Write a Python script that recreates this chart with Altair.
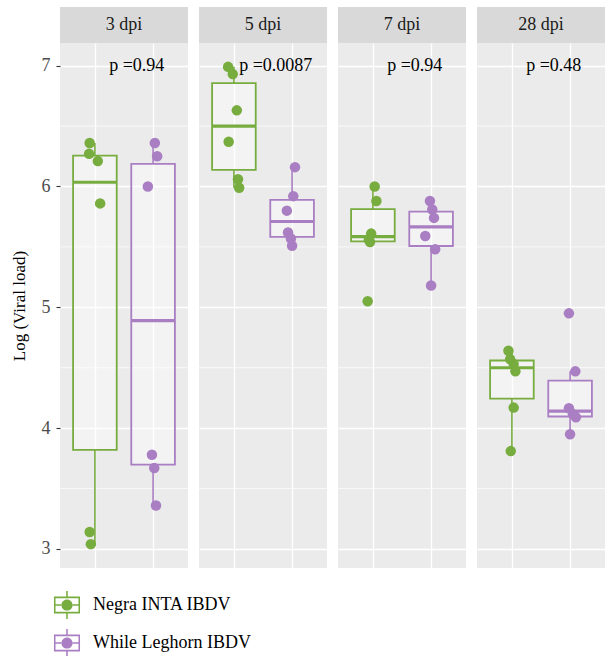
import altair as alt
import pandas as pd

FONT = "Liberation Serif"
GREEN = "#77AC3F"
PURPLE = "#A97EC3"

dpi_levels = ["3 dpi", "5 dpi", "7 dpi", "28 dpi"]
breeds = ["Negra INTA IBDV", "While Leghorn IBDV"]
p_labels = ["p =0.94", "p =0.0087", "p =0.94", "p =0.48"]
y_ticks = [3, 4, 5, 6, 7]
minor_grid = [3.5, 4.5, 5.5, 6.5]

# Log viral load per bird
negra_3 = [6.36, 6.27, 6.21, 5.86, 3.14, 3.04]
leghorn_3 = [6.36, 6.25, 6.00, 3.78, 3.67, 3.36]
negra_5 = [6.99, 6.93, 6.63, 6.37, 6.06, 5.99]
leghorn_5 = [6.16, 5.92, 5.80, 5.62, 5.57, 5.51]
negra_7 = [6.00, 5.88, 5.61, 5.56, 5.54, 5.05]
leghorn_7 = [5.88, 5.81, 5.74, 5.59, 5.48, 5.18]
negra_28 = [4.64, 4.57, 4.53, 4.47, 4.17, 3.81]
leghorn_28 = [4.95, 4.47, 4.165, 4.115, 4.09, 3.95]

# horizontal jitter of each point (category units)
jit_negra_3 = [-0.09, -0.10, 0.05, 0.09, -0.09, -0.07]
jit_leghorn_3 = [0.03, 0.07, -0.09, -0.02, 0.02, 0.05]
jit_negra_5 = [-0.10, -0.02, 0.05, -0.09, 0.07, 0.09]
jit_leghorn_5 = [0.05, 0.02, -0.09, -0.07, -0.02, 0.0]
jit_negra_7 = [0.03, 0.06, -0.03, -0.07, -0.05, -0.09]
jit_leghorn_7 = [-0.02, 0.02, 0.05, -0.10, 0.07, 0.0]
jit_negra_28 = [-0.06, -0.03, 0.03, 0.06, 0.03, -0.02]
jit_leghorn_28 = [-0.02, 0.09, -0.02, 0.05, 0.10, 0.0]

series = {
    ("3 dpi", 0): (negra_3, jit_negra_3),
    ("3 dpi", 1): (leghorn_3, jit_leghorn_3),
    ("5 dpi", 0): (negra_5, jit_negra_5),
    ("5 dpi", 1): (leghorn_5, jit_leghorn_5),
    ("7 dpi", 0): (negra_7, jit_negra_7),
    ("7 dpi", 1): (leghorn_7, jit_leghorn_7),
    ("28 dpi", 0): (negra_28, jit_negra_28),
    ("28 dpi", 1): (leghorn_28, jit_leghorn_28),
}

rows = []
for (d, b), (vals, jits) in series.items():
    for v, j in zip(vals, jits):
        rows.append({"dpi": d, "breed": breeds[b], "idx": b + 1, "value": v, "jitter": j})
df = pd.DataFrame(rows)
pdf = pd.DataFrame({"dpi": dpi_levels, "p": p_labels})
gdf = pd.DataFrame({"g": minor_grid})

PW, PH, SH = 128, 525, 36

color_scale = alt.Scale(domain=breeds, range=[GREEN, PURPLE])
stroke_scale = alt.Scale(domain=[1, 2], range=[GREEN, PURPLE])
x_scale = alt.Scale(domain=[0.4, 2.6], nice=False, zero=False)
y_scale = alt.Scale(domain=[2.8425, 7.1875], nice=False, zero=False)

x_axis = alt.Axis(values=[1, 2], labels=False, ticks=False, domain=False, title=None,
                  grid=True, gridColor="white", gridWidth=1.3)

# legend key: box outline + median + whisker stubs + dot
legend_path = (
    "M-0.93,-0.6H0.93V0.6H-0.93Z"
    "M-0.82,-0.49V0.49H0.82V-0.49Z"
    "M-0.82,-0.055H-0.38V0.055H-0.82Z"
    "M0.38,-0.055H0.82V0.055H0.38Z"
    "M-0.055,-1H0.055V-0.6H-0.055Z"
    "M-0.055,0.6H0.055V1H-0.055Z"
    "M-0.4,0A0.4,0.4,0,1,0,0.4,0A0.4,0.4,0,1,0,-0.4,0Z"
)

legend = alt.Legend(
    orient="none", legendX=-7, legendY=584, title=None,
    symbolType=legend_path, symbolSize=784, symbolStrokeWidth=0, symbolOpacity=1,
    labelFont=FONT, labelFontSize=18, labelColor="black", labelOffset=12,
    rowPadding=10, padding=0)


def y_axis(first):
    if first:
        return alt.Axis(values=y_ticks, title="Log (Viral load)", titleFont=FONT, titleFontSize=17,
                        titleFontWeight="normal", titleColor="black", titlePadding=13,
                        labelFont=FONT, labelFontSize=18, labelColor="#4D4D4D", labelPadding=6,
                        tickSize=4, tickColor="#333333", tickWidth=1.1, domain=False,
                        grid=True, gridColor="white", gridWidth=1.3, format="d")
    return alt.Axis(values=y_ticks, labels=False, ticks=False, domain=False, title=None,
                    grid=True, gridColor="white", gridWidth=1.3)


def panel(d, first):
    ya = y_axis(first)
    base = alt.Chart(df).transform_filter(alt.datum.dpi == d)
    stats = base.transform_joinaggregate(
        q1a="q1(value)", q3a="q3(value)", groupby=["breed"]
    ).transform_calculate(
        inval="datum.value >= datum.q1a - 1.5*(datum.q3a-datum.q1a) && "
              "datum.value <= datum.q3a + 1.5*(datum.q3a-datum.q1a) ? datum.value : null"
    ).transform_aggregate(
        q1="q1(value)", med="median(value)", q3="q3(value)", wlo="min(inval)", whi="max(inval)",
        groupby=["breed", "idx"]
    ).transform_calculate(
        xl="datum.idx - 0.375", xr="datum.idx + 0.375"
    )
    stroke = alt.Stroke("idx:N", scale=stroke_scale, legend=None)

    minor = alt.Chart(gdf).mark_rule(color="white", strokeWidth=0.7).encode(
        y=alt.Y("g:Q", scale=y_scale, axis=ya)
    )
    wlow = stats.mark_rule(strokeWidth=1.6).encode(
        x=alt.X("idx:Q", scale=x_scale, axis=x_axis),
        y=alt.Y("wlo:Q", scale=y_scale, axis=ya), y2="q1:Q", stroke=stroke)
    whigh = stats.mark_rule(strokeWidth=1.6).encode(
        x=alt.X("idx:Q", scale=x_scale, axis=x_axis),
        y=alt.Y("q3:Q", scale=y_scale, axis=ya), y2="whi:Q", stroke=stroke)
    box = stats.mark_rect(fill="white", fillOpacity=0.4, strokeWidth=1.8).encode(
        x=alt.X("xl:Q", scale=x_scale, axis=x_axis), x2="xr:Q",
        y=alt.Y("q1:Q", scale=y_scale, axis=ya), y2="q3:Q", stroke=stroke)
    med = stats.mark_rule(strokeWidth=3.2).encode(
        x=alt.X("xl:Q", scale=x_scale, axis=x_axis), x2="xr:Q",
        y=alt.Y("med:Q", scale=y_scale, axis=ya), stroke=stroke)
    pts = base.transform_calculate(xj="datum.idx + datum.jitter").mark_circle(
        size=110, opacity=1).encode(
        x=alt.X("xj:Q", scale=x_scale, axis=x_axis),
        y=alt.Y("value:Q", scale=y_scale, axis=ya),
        color=alt.Color("breed:N", scale=color_scale, legend=legend))
    ptxt = alt.Chart(pdf).transform_filter(alt.datum.dpi == d).mark_text(
        font=FONT, fontSize=18, color="black", baseline="middle").encode(
        x=alt.X(datum=1.72, type="quantitative", scale=x_scale, axis=x_axis),
        y=alt.Y(datum=7, type="quantitative", scale=y_scale, axis=ya),
        text="p:N")
    return alt.layer(minor, wlow, whigh, box, med, pts, ptxt).properties(
        width=PW, height=PH, view=alt.ViewBackground(fill="#EBEBEB", stroke=None))


def strip(d):
    return alt.Chart(pd.DataFrame({"dpi": [d]})).mark_text(
        font=FONT, fontSize=18, color="#1A1A1A", baseline="middle").encode(
        text="dpi:N").properties(
        width=PW, height=SH, view=alt.ViewBackground(fill="#D9D9D9", stroke=None))


strips = [strip(d) for d in dpi_levels]
panels = [panel(d, i == 0) for i, d in enumerate(dpi_levels)]

chart = alt.concat(*strips, *panels, columns=4, spacing={"row": 0, "column": 11},
                   bounds="flush").properties(
    padding={"left": 10, "top": 7, "right": 0, "bottom": 88}
).configure(font=FONT).configure_view(stroke=None)

chart.save("out.html", embed_options={"renderer": "svg", "actions": False})
